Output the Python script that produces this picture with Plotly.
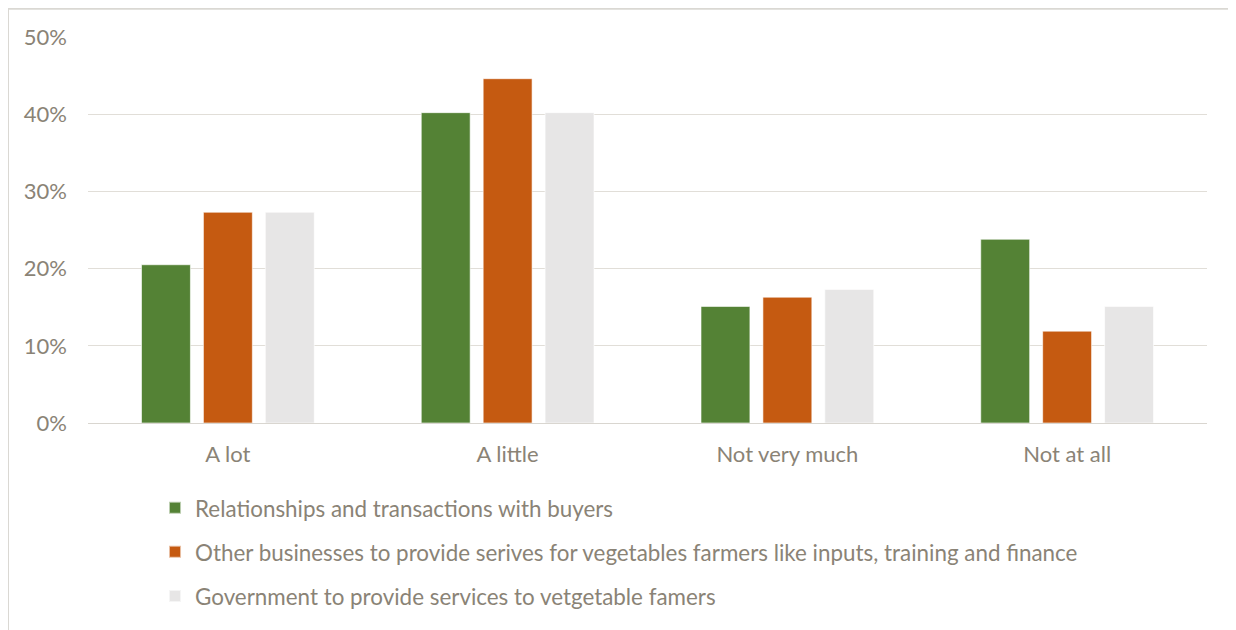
import plotly.graph_objects as go

categories = ["A lot", "A little", "Not very much", "Not at all"]
series_names = [
    "Relationships and transactions with buyers",
    "Other businesses to provide serives for vegetables farmers like inputs, training and finance",
    "Government to provide services to vetgetable famers",
]
buyers = [0.205, 0.402, 0.151, 0.238]
other_businesses = [0.273, 0.446, 0.163, 0.119]
government = [0.273, 0.402, 0.173, 0.151]
y_ticks = [0, 0.1, 0.2, 0.3, 0.4, 0.5]

colors = ["#548235", "#C55A11", "#E7E6E6"]
text_color = "#8A8376"
font_family = "Lato, Carlito, Calibri, sans-serif"

W, H = 1228, 622
ML, MR, MT, MB = 80, 29, 29, 203
PW, PH = W - ML - MR, H - MT - MB

fig = go.Figure()
for i, (name, vals) in enumerate(zip(series_names, [buyers, other_businesses, government])):
    fig.add_trace(go.Bar(
        x=categories, y=vals, name=name,
        marker=dict(color=colors[i], line=dict(color="rgba(255,255,255,0.6)", width=1)),
        legendgroup=f"g{i}",
    ))

frame_x = -ML / PW
frame_y = 1 + (MT - 0.5) / PH

fig.update_layout(
    width=W, height=H,
    margin=dict(l=ML, r=MR, t=MT, b=MB),
    paper_bgcolor="white", plot_bgcolor="white",
    barmode="group", bargap=0.336, bargroupgap=0.21,
    font=dict(family=font_family, size=22, color=text_color),
    showlegend=True,
    legend=dict(
        x=0.0599, y=-0.165, xanchor="left", yanchor="top",
        orientation="v", tracegroupgap=12,
        font=dict(size=22.4, color=text_color),
        itemsizing="constant",
    ),
    xaxis=dict(
        showgrid=False, showline=True, linecolor="#D9D6D0", linewidth=1,
        ticks="", ticklabelstandoff=12,
        tickfont=dict(size=22, color=text_color),
    ),
    yaxis=dict(
        range=[0, 0.5], tickvals=y_ticks, tickformat=".0%",
        showgrid=True, gridcolor="#E1DED8", gridwidth=1,
        zeroline=False, showline=False, ticks="", ticklabelstandoff=20,
        tickfont=dict(size=22, color=text_color),
    ),
    shapes=[
        dict(type="line", xref="paper", yref="paper",
             x0=frame_x, x1=1.2, y0=frame_y, y1=frame_y,
             line=dict(color="#DAD8D3", width=2)),
        dict(type="line", xref="paper", yref="paper",
             x0=frame_x, x1=frame_x, y0=frame_y, y1=-0.8,
             line=dict(color="#DAD8D3", width=2)),
    ],
)

fig.write_html("out.html")
